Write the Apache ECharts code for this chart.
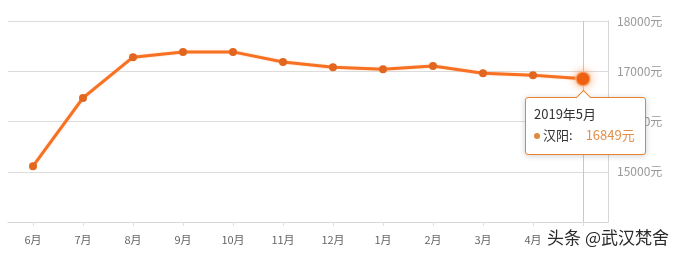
<!DOCTYPE html>
<html>
<head>
<meta charset="utf-8">
<script src="https://cdn.jsdelivr.net/npm/echarts@6/dist/echarts.min.js"></script>
<style>
html,body{margin:0;padding:0;background:#fff;}
#chart{width:679px;height:258px;}
</style>
</head>
<body>
<div id="chart"></div>
<script>
const categories = ['6月','7月','8月','9月','10月','11月','12月','1月','2月','3月','4月','5月'];
const prices = [15110, 16470, 17280, 17385, 17385, 17185, 17080, 17040, 17105, 16960, 16920, 16849];
const seriesName = '汉阳';
const tooltipYear = '2019年';
const yTicks = { min: 14000, max: 18000, interval: 1000 };
const unit = '元';
const watermark = '头条 @武汉梵舍';
const highlightIndex = categories.length - 1;

const FONT = '"Noto Sans CJK SC", "Noto Sans", sans-serif';
const CSSFONT = FONT.replace(/"/g, "'");
const chart = echarts.init(document.getElementById('chart'), null, { renderer: 'canvas' });

chart.setOption({
  animation: false,
  backgroundColor: '#fff',
  grid: { left: 8, right: 71, top: 21, bottom: 36 },
  tooltip: {
    trigger: 'item',
    triggerOn: 'none',
    alwaysShowContent: true,
    backgroundColor: '#fff',
    borderColor: '#e8822e',
    borderWidth: 1,
    padding: [6, 10, 8, 8],
    extraCssText: 'box-shadow:0 1px 6px rgba(0,0,0,0.18);border-radius:3px;overflow:visible;',
    position: function (point, params, dom, rect, size) {
      const p = chart.convertToPixel({ seriesIndex: 0 }, [params.dataIndex, params.value]);
      return [p[0] - size.contentSize[0] / 2 + 2, p[1] + 18];
    },
    formatter: function (p) {
      return '<div style="position:absolute;top:-6px;left:calc(50% - 7px);width:10px;height:10px;background:#fff;' +
        'border-top:1px solid #e8822e;border-left:1px solid #e8822e;transform:rotate(45deg);"></div>' +
        '<div style="font-family:' + CSSFONT + ';font-size:13px;color:#333;line-height:20px;">' +
        tooltipYear + p.name + '</div>' +
        '<div style="font-family:' + CSSFONT + ';font-size:13px;line-height:22px;color:#333;">' +
        '<span style="display:inline-block;width:6px;height:6px;border-radius:3px;background:#e08a3c;margin-right:3px;vertical-align:middle;"></span>' +
        seriesName + ':<span style="display:inline-block;width:13px"></span>' +
        '<span style="color:#e0904a;">' + p.value + unit + '</span></div>';
    }
  },
  xAxis: {
    type: 'category',
    data: categories,
    boundaryGap: true,
    axisLine: { show: true, lineStyle: { color: '#d6d6d6', width: 1 } },
    axisTick: { show: true, alignWithLabel: true, length: 4, lineStyle: { color: '#e0e0e0' } },
    axisLabel: { color: '#666', fontSize: 11, fontFamily: FONT, margin: 12 }
  },
  yAxis: {
    type: 'value',
    position: 'right',
    min: yTicks.min,
    max: yTicks.max,
    interval: yTicks.interval,
    axisLine: { show: true, lineStyle: { color: '#d6d6d6', width: 1 } },
    axisTick: { show: false },
    axisLabel: {
      color: '#999', fontSize: 12, fontFamily: FONT, margin: 9,
      showMinLabel: false,
      formatter: function (v) { return String(v) + unit; }
    },
    splitLine: { show: true, lineStyle: { color: '#dcdcdc', width: 1 } }
  },
  series: [{
    name: seriesName,
    type: 'line',
    data: prices,
    symbol: 'circle',
    symbolSize: 8,
    lineStyle: { color: '#e2661f', width: 3, shadowColor: 'rgba(240,160,100,0.45)', shadowBlur: 2 },
    itemStyle: { color: '#e2661f' },
    emphasis: {
      scale: 1.8,
      itemStyle: { color: '#ee5f10', shadowColor: 'rgba(245,120,40,0.55)', shadowBlur: 8, borderColor: 'rgba(250,190,150,0.6)', borderWidth: 2 },
      lineStyle: { width: 3 }
    },
    markLine: {
      silent: true,
      symbol: 'none',
      label: { show: false },
      lineStyle: { color: '#c8c8c8', type: 'solid', width: 1 },
      data: [{ xAxis: categories[highlightIndex] }],
      z: 1
    },
    z: 3
  }],
  graphic: [{
    type: 'text',
    right: 8,
    top: 229,
    style: {
      text: watermark,
      fill: '#2b2b2b',
      font: '17px ' + FONT,
      backgroundColor: '#fff',
      padding: [0, 2, 0, 3]
    },
    z: 100
  }]
});

chart.dispatchAction({ type: 'highlight', seriesIndex: 0, dataIndex: highlightIndex });
chart.dispatchAction({ type: 'showTip', seriesIndex: 0, dataIndex: highlightIndex });
</script>
</body>
</html>
